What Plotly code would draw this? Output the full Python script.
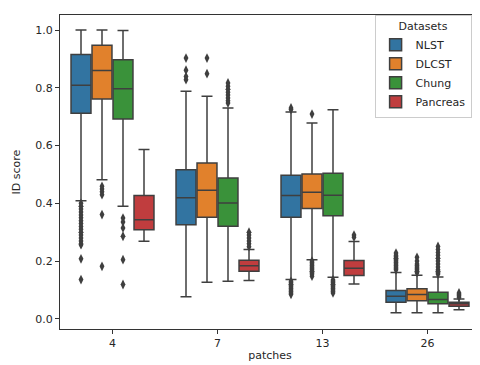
import plotly.graph_objects as go

patches = ["4", "7", "13", "26"]
datasets = ["NLST", "DLCST", "Chung", "Pancreas"]
colors = ["#3274a1", "#e1812c", "#3a923a", "#c03d3e"]

# Box statistics per dataset, per patch setting (4, 7, 13, 26)
q1 = {
    "NLST":     [0.712, 0.326, 0.352, 0.058],
    "DLCST":    [0.761, 0.352, 0.382, 0.063],
    "Chung":    [0.692, 0.321, 0.357, 0.052],
    "Pancreas": [0.309, 0.165, 0.150, 0.044],
}
median = {
    "NLST":     [0.809, 0.419, 0.427, 0.078],
    "DLCST":    [0.860, 0.445, 0.438, 0.084],
    "Chung":    [0.797, 0.401, 0.428, 0.067],
    "Pancreas": [0.343, 0.184, 0.175, 0.052],
}
q3 = {
    "NLST":     [0.915, 0.516, 0.497, 0.098],
    "DLCST":    [0.947, 0.540, 0.502, 0.104],
    "Chung":    [0.897, 0.488, 0.504, 0.092],
    "Pancreas": [0.427, 0.203, 0.202, 0.058],
}
lower_whisker = {
    "NLST":     [0.409, 0.077, 0.136, 0.021],
    "DLCST":    [0.482, 0.127, 0.205, 0.021],
    "Chung":    [0.390, 0.130, 0.144, 0.021],
    "Pancreas": [0.269, 0.133, 0.121, 0.032],
}
upper_whisker = {
    "NLST":     [1.000, 0.788, 0.716, 0.161],
    "DLCST":    [1.000, 0.771, 0.678, 0.151],
    "Chung":    [0.998, 0.730, 0.724, 0.145],
    "Pancreas": [0.586, 0.240, 0.268, 0.069],
}
outliers = {
    "NLST": [
        [0.40, 0.39, 0.38, 0.37, 0.36, 0.35, 0.34, 0.33, 0.32, 0.31, 0.30,
         0.29, 0.28, 0.27, 0.26, 0.257, 0.208, 0.136],
        [0.903, 0.861, 0.839, 0.828],
        [0.730, 0.725, 0.13, 0.125, 0.12, 0.115, 0.11, 0.105, 0.10, 0.095, 0.09, 0.085],
        [0.17, 0.175, 0.18, 0.185, 0.19, 0.195, 0.20, 0.205, 0.21, 0.215, 0.22, 0.228],
    ],
    "DLCST": [
        [0.459, 0.45, 0.44, 0.43, 0.361, 0.182],
        [0.903, 0.849],
        [0.709, 0.20, 0.195, 0.19, 0.185, 0.18, 0.175, 0.17, 0.165, 0.16, 0.155, 0.148],
        [0.16, 0.165, 0.17, 0.175, 0.18, 0.185, 0.19, 0.20, 0.213],
    ],
    "Chung": [
        [0.349, 0.335, 0.315, 0.286, 0.205, 0.119],
        [0.817, 0.805, 0.795, 0.785, 0.775, 0.765, 0.755, 0.747],
        [0.135, 0.13, 0.125, 0.12, 0.115, 0.11, 0.105, 0.10, 0.095, 0.09],
        [0.155, 0.16, 0.165, 0.17, 0.18, 0.19, 0.20, 0.21, 0.22, 0.23, 0.24, 0.251],
    ],
    "Pancreas": [
        [None],
        [0.30, 0.29, 0.28, 0.27, 0.26, 0.25],
        [0.29, 0.283],
        [0.075, 0.08, 0.085, 0.09],
    ],
}

fig = go.Figure()
for name, col in zip(datasets, colors):
    fig.add_trace(go.Box(
        name=name,
        x=patches,
        y=outliers[name],
        q1=q1[name],
        median=median[name],
        q3=q3[name],
        lowerfence=lower_whisker[name],
        upperfence=upper_whisker[name],
        boxpoints="outliers",
        jitter=0,
        pointpos=0,
        fillcolor=col,
        line=dict(color="#3f3f3f", width=1.5),
        whiskerwidth=0.55,
        marker=dict(symbol="diamond-tall", size=7, color="#3f3f3f",
                    outliercolor="#3f3f3f", line=dict(width=0)),
        hoverinfo="skip",
    ))

axis_common = dict(
    showline=True, mirror=True, linecolor="#333333", linewidth=1,
    showgrid=False, zeroline=False, ticks="outside", ticklen=4,
    tickcolor="#333333", tickfont=dict(size=11, color="#262626"),
)

fig.update_layout(
    width=480, height=365,
    margin=dict(l=52, r=8, t=7, b=44),
    paper_bgcolor="white", plot_bgcolor="white",
    font=dict(family="DejaVu Sans", size=11, color="#262626"),
    boxmode="group", boxgap=0.2, boxgroupgap=0.05,
    xaxis=dict(type="category", categoryorder="array", categoryarray=patches,
               range=[-0.5, 3.5],
               title=dict(text="patches", font=dict(size=11), standoff=2),
               **axis_common),
    yaxis=dict(range=[-0.035, 1.052], tickvals=[0, 0.2, 0.4, 0.6, 0.8, 1.0],
               tickformat=".1f",
               title=dict(text="ID score", font=dict(size=11), standoff=12),
               **axis_common),
    legend=dict(
        title=dict(text="Datasets", side="top center", font=dict(size=11)),
        x=0.98, y=1.0, xanchor="right", yanchor="top",
        bgcolor="rgba(255,255,255,0.8)", bordercolor="#cccccc", borderwidth=1,
        font=dict(size=11), tracegroupgap=0, itemwidth=30,
    ),
    showlegend=True,
)

fig.write_html("out.html")
